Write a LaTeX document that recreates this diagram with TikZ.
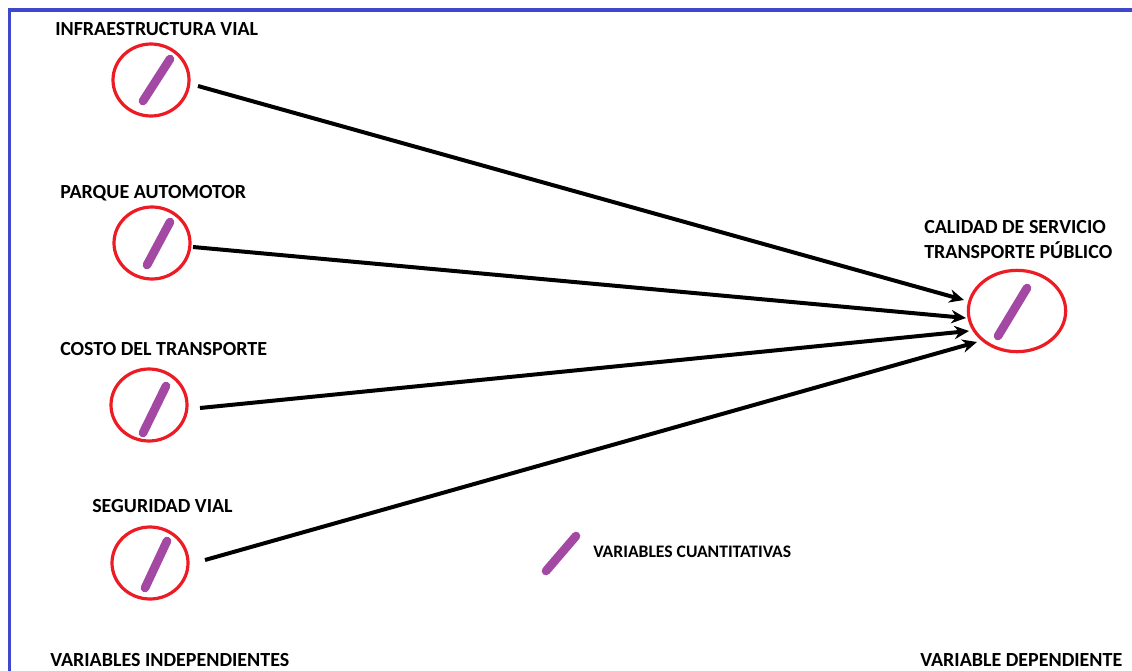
\documentclass[tikz,border=0pt]{standalone}
\usepackage{fontspec}
\setmainfont{Carlito}
\usetikzlibrary{arrows.meta,shapes.geometric}
\definecolor{pblue}{RGB}{63,72,204}
\definecolor{pred}{RGB}{237,28,36}
\definecolor{ppurple}{RGB}{163,73,164}
\tikzset{
  varcircle/.style={draw=pred, line width=2.4pt, ellipse, inner sep=0pt, minimum width=57pt, minimum height=54pt},
  bigcircle/.style={draw=pred, line width=2.4pt, ellipse, inner sep=0pt, minimum width=73pt, minimum height=61pt},
  lbl/.style={font=\bfseries\fontsize{15}{18}\selectfont, inner sep=0pt, anchor=west},
  leg/.style={font=\bfseries\fontsize{13.2}{15}\selectfont, inner sep=0pt, anchor=west},
  stroke/.style={draw=ppurple, line width=6.5pt, line cap=round},
  arr/.style={draw=black, line width=3pt, -{Stealth[length=11pt,width=10pt]}},
}
\begin{document}
\begin{tikzpicture}[x=0.75pt,y=-0.75pt]
\useasboundingbox (0,0) rectangle (1132,671);
% frame
\draw[pblue, line width=2.4pt] (9.5,680) -- (9.5,10) -- (1140,10);
% labels
\node[lbl] (l1) at (55,29) {INFRAESTRUCTURA VIAL};
\node[lbl] (l2) at (60,193) {PARQUE AUTOMOTOR};
\node[lbl] (l3) at (60,349) {COSTO DEL TRANSPORTE};
\node[lbl] (l4) at (92,506) {SEGURIDAD VIAL};
\node[lbl] (l5) at (924,227) {CALIDAD DE SERVICIO};
\node[lbl] (l6) at (924,250) {TRANSPORTE PÚBLICO};
\node[lbl] (l7) at (50,660) {VARIABLES INDEPENDIENTES};
\node[lbl] (l8) at (920,660) {VARIABLE DEPENDIENTE};
\node[leg] (l9) at (593,552) {VARIABLES CUANTITATIVAS};
% circles
\node[varcircle] (c1) at (151,80) {};
\node[varcircle] (c2) at (152,243) {};
\node[varcircle] (c3) at (149,405) {};
\node[varcircle] (c4) at (150,563) {};
\node[bigcircle] (t) at (1017,311) {};
% strokes
\draw[stroke] (143,101) -- (170,59);
\draw[stroke] (147,265) -- (170,222);
\draw[stroke] (143,433) -- (166,386);
\draw[stroke] (145,588) -- (167,541);
\draw[stroke] (998,336) -- (1027,288);
\draw[stroke] (546,571) -- (576,536);
% arrow ends
\coordinate (a1) at (198,86);  \coordinate (b1) at (964,300);
\coordinate (a2) at (193,247); \coordinate (b2) at (966,318);
\coordinate (a3) at (200,408); \coordinate (b3) at (969,331);
\coordinate (a4) at (205,560); \coordinate (b4) at (977,342);
\draw[arr] (a1) -- (b1);
\draw[arr] (a2) -- (b2);
\draw[arr] (a3) -- (b3);
\draw[arr] (a4) -- (b4);
\end{tikzpicture}
\end{document}
